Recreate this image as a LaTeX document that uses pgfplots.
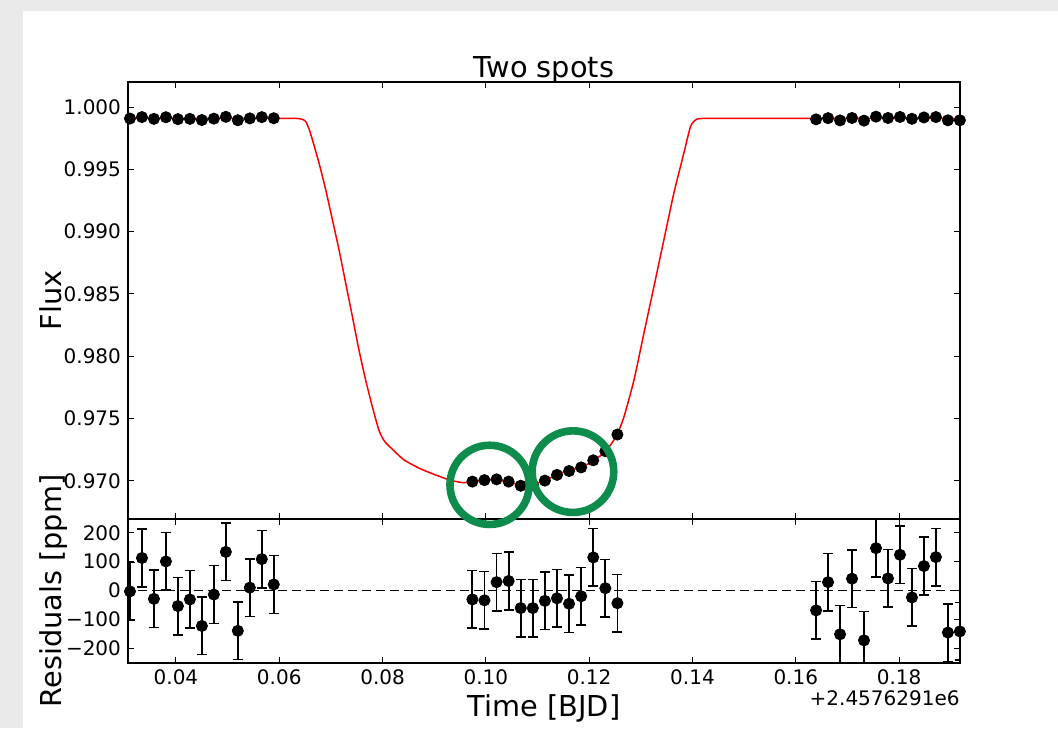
\documentclass[border=0pt]{standalone}
\usepackage{fontspec}
\setmainfont{DejaVu Sans}
\usepackage{pgfplots}
\pgfplotsset{compat=1.18}
\usepackage{pgfplotstable}
\definecolor{spotgreen}{RGB}{14,140,76}
\definecolor{bggray}{RGB}{234,234,234}

\pgfplotstableread{
t f
0.03110 0.999077
0.03342 0.999193
0.03574 0.999051
0.03806 0.999181
0.04038 0.999026
0.04270 0.999049
0.04502 0.998957
0.04734 0.999066
0.04966 0.999214
0.05198 0.998940
0.05430 0.999090
0.05662 0.999189
0.05894 0.999101
0.09739 0.96994
0.09973 0.97006
0.10207 0.97012
0.10441 0.96994
0.10675 0.96961
0.10909 0.96968
0.11143 0.97002
0.11377 0.97048
0.11611 0.97079
0.11845 0.97108
0.12079 0.97165
0.12313 0.97238
0.12547 0.97372
0.16393 0.999011
0.16625 0.999109
0.16857 0.998928
0.17089 0.999121
0.17321 0.998907
0.17553 0.999227
0.17785 0.999122
0.18017 0.999204
0.18249 0.999056
0.18481 0.999165
0.18713 0.999196
0.18945 0.998934
0.19177 0.998938
}\fluxdata

\pgfplotstableread{
t r e
0.03110 -3 100
0.03342 113 100
0.03574 -29 100
0.03806 101 100
0.04038 -54 100
0.04270 -31 100
0.04502 -123 100
0.04734 -14 100
0.04966 134 100
0.05198 -140 100
0.05430 10 100
0.05662 109 100
0.05894 21 100
0.09739 -31 100
0.09973 -34 100
0.10207 29 100
0.10441 33 100
0.10675 -61 100
0.10909 -61 100
0.11143 -36 100
0.11377 -27 100
0.11611 -46 100
0.11845 -20 100
0.12079 115 100
0.12313 8 100
0.12547 -44 100
0.16393 -69 100
0.16625 29 100
0.16857 -152 100
0.17089 41 100
0.17321 -173 100
0.17553 147 100
0.17785 42 100
0.18017 124 100
0.18249 -24 100
0.18481 85 100
0.18713 116 100
0.18945 -146 100
0.19177 -142 100
}\residdata

\pgfplotstableread{
t f
0.0300 0.99908
0.0400 0.99908
0.0500 0.99908
0.0580 0.99908
0.0620 0.99908
0.0634 0.99908
0.0640 0.99906
0.0646 0.99899
0.06515 0.99882
0.06580 0.99820
0.06644 0.99735
0.06772 0.99547
0.06901 0.99333
0.07031 0.99092
0.07159 0.98850
0.07288 0.98583
0.07418 0.98314
0.07545 0.98047
0.07675 0.97805
0.07805 0.97591
0.07932 0.97404
0.08029 0.97323
0.08100 0.97290
0.08200 0.97250
0.08416 0.97168
0.08739 0.97096
0.09062 0.97042
0.09319 0.97004
0.09576 0.96985
0.09739 0.96994
0.09973 0.97008
0.10207 0.97009
0.10441 0.96991
0.10675 0.96967
0.10870 0.96966
0.11143 0.97003
0.11377 0.97050
0.11611 0.97083
0.11845 0.97112
0.12079 0.97158
0.12313 0.97236
0.12450 0.97310
0.12547 0.97378
0.12671 0.97510
0.12865 0.97805
0.13058 0.98181
0.13252 0.98556
0.13445 0.98931
0.13638 0.99306
0.13832 0.99628
0.13961 0.99842
0.14058 0.99896
0.14120 0.99906
0.14180 0.99908
0.14500 0.99908
0.15500 0.99908
0.16500 0.99908
0.1800 0.99908
0.1950 0.99908
}\modeldata

\pgfplotsset{
  myax/.style={
    scale only axis, width=416pt,
    xmin=0.030718, xmax=0.191796,
    xtick={0.04,0.06,0.08,0.10,0.12,0.14,0.16,0.18},
    tick align=inside,
    major tick length=3pt,
    every tick/.style={black, line width=0.5pt},
    axis line style={line width=0.75pt},
    tick label style={font=\fontsize{10}{12}\selectfont},
    minor tick num=0,
  }
}

\begin{document}
\begin{tikzpicture}
\useasboundingbox (0,0) rectangle (529pt,364pt);
\fill[bggray] (0,0) rectangle (529pt,364pt);
\fill[white] (11.5pt,0) rectangle (529pt,358.5pt);

\begin{axis}[myax, name=top,
  at={(64pt,104.5pt)}, anchor=south west, height=218.5pt,
  ymin=0.96694, ymax=1.00201,
  ytick={0.970,0.975,0.980,0.985,0.990,0.995,1.000},
  yticklabels={0.970,0.975,0.980,0.985,0.990,0.995,1.000},
  xticklabel=\empty,
]
\addplot[red, line width=0.75pt, no marks, smooth, tension=0.4] table[x=t,y=f] {\modeldata};
\addplot[only marks, mark=*, mark size=2.8pt, black] table[x=t,y=f] {\fluxdata};
\coordinate (c1) at (axis cs:0.10072,0.96968);
\coordinate (c2) at (axis cs:0.11686,0.97074);
\end{axis}

\begin{axis}[myax, name=bot,
  at={(64pt,32.5pt)}, anchor=south west, height=72pt,
  ymin=-251.7, ymax=248.3,
  ytick={-200,-100,0,100,200},
  yticklabels={−200,−100,0,100,200},
  xticklabels={0.04,0.06,0.08,0.10,0.12,0.14,0.16,0.18},
  xticklabel style={anchor=base, yshift=-10.5pt},
]
\addplot[black, line width=0.75pt, dash pattern=on 4.5pt off 2.5pt, no marks] coordinates {(0.0300,0) (0.1950,0)};
\addplot[only marks, mark=*, mark size=2.8pt, black,
  error bars/.cd, y dir=both, y explicit,
  error bar style={black, line width=0.9pt},
  error mark options={black, line width=0.75pt, mark size=2.5pt, rotate=90}]
  table[x=t, y=r, y error=e] {\residdata};
\end{axis}

\draw[spotgreen, line width=3.8pt] (c1) circle[radius=19.8pt];
\draw[spotgreen, line width=3.8pt] (c2) circle[radius=20.4pt];

\node[anchor=base, font=\fontsize{14.4}{17}\selectfont] at ([yshift=2pt]top.north) {Two spots};
\node[anchor=base, font=\fontsize{14.4}{17}\selectfont] at ([yshift=-26.5pt]bot.south) {Time [BJD]};
\node[anchor=base east, inner sep=0pt, font=\fontsize{10}{12}\selectfont] at ([yshift=-21pt]bot.south east) {+2.4576291e6};
\node[rotate=90, anchor=base, font=\fontsize{14.4}{17}\selectfont] at ([xshift=-33.5pt]top.west) {Flux};
\node[rotate=90, anchor=base, font=\fontsize{14.4}{17}\selectfont] at ([xshift=-33.5pt]bot.west) {Residuals [ppm]};
\end{tikzpicture}
\end{document}
